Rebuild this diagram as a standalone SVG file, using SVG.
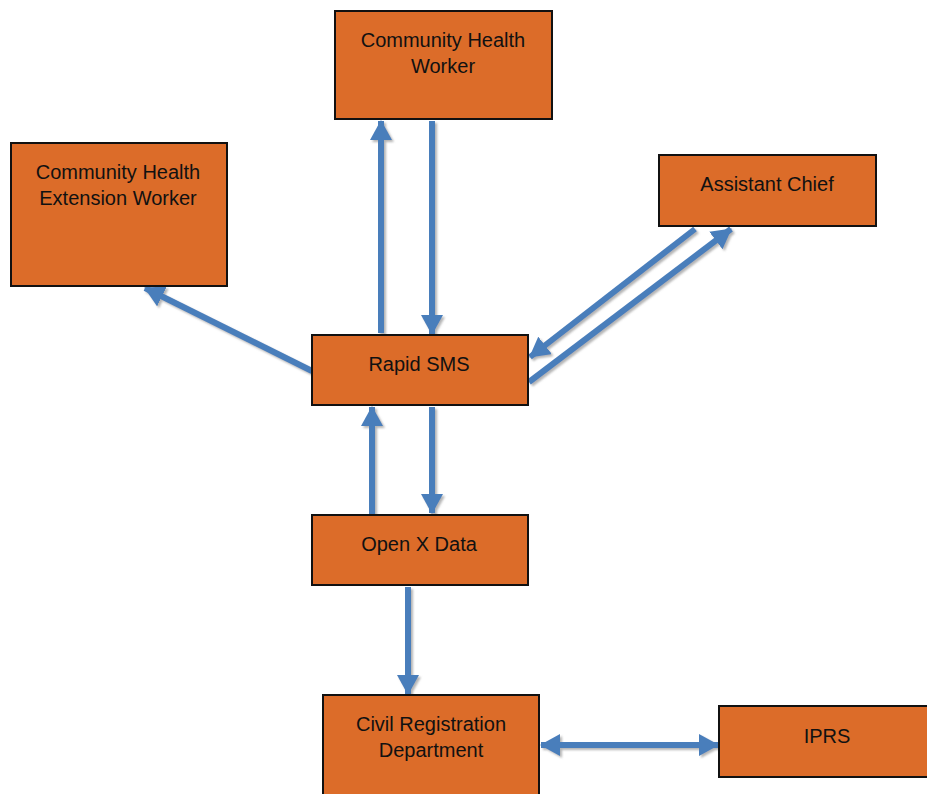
<svg xmlns="http://www.w3.org/2000/svg" width="927" height="794" viewBox="0 0 927 794">
<defs>
<style>
.box{fill:#DC6C29;stroke:#111;stroke-width:2}
.lbl{font-family:"Liberation Sans",Arial,sans-serif;font-size:20px;fill:#111;text-anchor:middle}
.cn{stroke:#4A7EBB;stroke-width:6;fill:none}
</style>
<marker id="ah" viewBox="0 0 20 22" refX="19" refY="11" markerWidth="20" markerHeight="22" markerUnits="userSpaceOnUse" orient="auto-start-reverse">
<path d="M0,0 L20,11 L0,22 Z" fill="#4A7EBB"/>
</marker>
<filter id="sh" x="-20%" y="-20%" width="140%" height="140%">
<feDropShadow dx="2" dy="2" stdDeviation="1.2" flood-color="#777" flood-opacity="0.55"/>
</filter>
</defs>
<rect width="927" height="794" fill="#fff"/>
<g id="connectors" filter="url(#sh)">
<line class="cn" x1="381" y1="333" x2="381" y2="121" marker-end="url(#ah)"/>
<line class="cn" x1="432" y1="121" x2="432" y2="334" marker-end="url(#ah)"/>
<line class="cn" x1="312" y1="371" x2="145" y2="288" marker-end="url(#ah)"/>
<line class="cn" x1="695" y1="229" x2="530" y2="357" marker-end="url(#ah)"/>
<line class="cn" x1="529" y1="382" x2="731" y2="229" marker-end="url(#ah)"/>
<line class="cn" x1="372" y1="515" x2="372" y2="407" marker-end="url(#ah)"/>
<line class="cn" x1="432" y1="407" x2="432" y2="513" marker-end="url(#ah)"/>
<line class="cn" x1="408" y1="587" x2="408" y2="694" marker-end="url(#ah)"/>
<line class="cn" x1="541" y1="745" x2="718" y2="745" marker-start="url(#ah)" marker-end="url(#ah)"/>
</g>
<g id="chw">
<rect class="box" x="335" y="11" width="217" height="108"/>
<text class="lbl" x="443" y="47">Community Health</text>
<text class="lbl" x="443" y="73">Worker</text>
</g>
<g id="chew">
<rect class="box" x="11" y="143" width="216" height="143"/>
<text class="lbl" x="118" y="179">Community Health</text>
<text class="lbl" x="118" y="205">Extension Worker</text>
</g>
<g id="assistant-chief">
<rect class="box" x="659" y="155" width="217" height="71"/>
<text class="lbl" x="767" y="191">Assistant Chief</text>
</g>
<g id="rapid-sms">
<rect class="box" x="312" y="335" width="216" height="70"/>
<text class="lbl" x="419" y="371">Rapid SMS</text>
</g>
<g id="open-x-data">
<rect class="box" x="312" y="515" width="216" height="70"/>
<text class="lbl" x="419" y="551">Open X Data</text>
</g>
<g id="civil-registration">
<rect class="box" x="323" y="695" width="216" height="110"/>
<text class="lbl" x="431" y="731">Civil Registration</text>
<text class="lbl" x="431" y="757">Department</text>
</g>
<g id="iprs">
<rect class="box" x="719" y="706" width="217" height="71"/>
<text class="lbl" x="827" y="743">IPRS</text>
</g>
</svg>
